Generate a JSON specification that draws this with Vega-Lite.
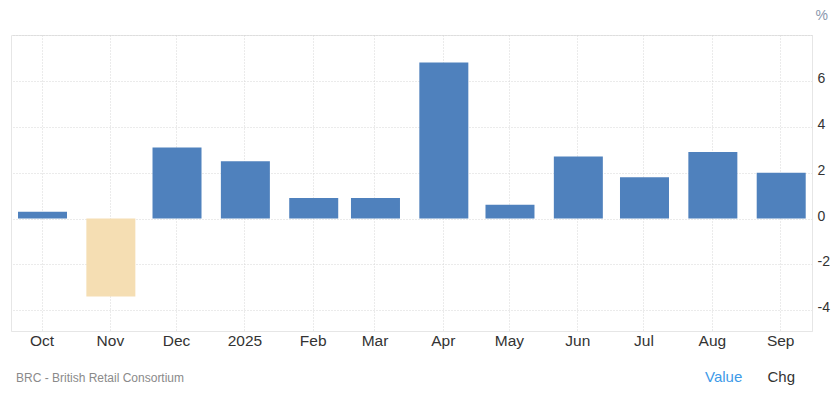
{
  "$schema": "https://vega.github.io/schema/vega-lite/v6.json",
  "autosize": {"type": "none"},
  "width": 801,
  "height": 296,
  "padding": {"left": 11, "top": 35, "right": 25, "bottom": 74},
  "background": "white",
  "config": {
    "view": {"stroke": "#e6e6e6"},
    "font": "Liberation Sans"
  },
  "title": {
    "text": "BRC - British Retail Consortium",
    "orient": "bottom",
    "anchor": "start",
    "frame": "group",
    "fontSize": 12,
    "fontWeight": "normal",
    "color": "#8a8a8a",
    "font": "Liberation Sans",
    "offset": -12,
    "dx": 5
  },
  "layer": [
    {
      "data": {
        "values": [
          {"date": "2024-10-01", "value": 0.3},
          {"date": "2024-11-01", "value": -3.4},
          {"date": "2024-12-01", "value": 3.1},
          {"date": "2025-01-01", "value": 2.5},
          {"date": "2025-02-01", "value": 0.9},
          {"date": "2025-03-01", "value": 0.9},
          {"date": "2025-04-01", "value": 6.8},
          {"date": "2025-05-01", "value": 0.6},
          {"date": "2025-06-01", "value": 2.7},
          {"date": "2025-07-01", "value": 1.8},
          {"date": "2025-08-01", "value": 2.9},
          {"date": "2025-09-01", "value": 2.0}
        ]
      },
      "mark": {"type": "bar", "width": 49, "xOffset": 1},
      "encoding": {
        "x": {
          "field": "date",
          "type": "temporal",
          "scale": {
            "type": "utc",
            "padding": 0,
            "domain": [
              {"year": 2024, "month": 9, "date": 17, "hours": 4, "utc": true},
              {"year": 2025, "month": 9, "date": 15, "hours": 10, "utc": true}
            ]
          },
          "axis": {
            "title": null,
            "tickCount": "month",
            "labelExpr": "utcFormat(datum.value, '%m') == '01' ? utcFormat(datum.value, '%Y') : utcFormat(datum.value, '%b')",
            "grid": true,
            "gridDash": [1, 2],
            "gridColor": "#d6d6d6",
            "ticks": false,
            "domain": true,
            "domainColor": "#e6e6e6",
            "labelFontSize": 15.5,
            "labelColor": "#333333",
            "labelPadding": 2,
            "labelFlush": false,
            "labelOverlap": false
          }
        },
        "y": {
          "field": "value",
          "type": "quantitative",
          "scale": {"domain": [-4.9, 8], "nice": false, "zero": false},
          "axis": {
            "orient": "right",
            "values": [-4, -2, 0, 2, 4, 6, 8],
            "labelExpr": "datum.value == 8 ? '' : '' + datum.value",
            "grid": true,
            "gridDash": [1, 2],
            "gridColor": "#d6d6d6",
            "ticks": false,
            "domain": true,
            "domainColor": "#e6e6e6",
            "labelFontSize": 14,
            "labelColor": "#333333",
            "labelPadding": 5,
            "labelOffset": -2.5,
            "title": "%",
            "titleAngle": 0,
            "titleX": 3,
            "titleY": -20,
            "titleAlign": "left",
            "titleBaseline": "middle",
            "titleFontSize": 14,
            "titleFontWeight": "normal",
            "titleColor": "#8a97ad"
          }
        },
        "color": {
          "condition": {"test": "datum.value < 0", "value": "#f5deb3"},
          "value": "#4f81bd"
        }
      }
    },
    {
      "data": {"values": [{"btn": "Value"}, {"btn": "Chg"}]},
      "mark": {"type": "point", "opacity": 0},
      "encoding": {
        "color": {
          "field": "btn",
          "type": "nominal",
          "sort": null,
          "scale": {"domain": ["Value", "Chg"], "range": ["#3d9ae8", "#333333"]},
          "legend": {
            "orient": "none",
            "legendX": 679,
            "legendY": 334,
            "direction": "horizontal",
            "title": null,
            "padding": 0,
            "symbolSize": 0,
            "symbolStrokeWidth": 0,
            "symbolOpacity": 0,
            "labelOffset": 0,
            "columnPadding": 9.5,
            "labelFontSize": 15,
            "labelFont": "Liberation Sans",
            "labelLimit": 0,
            "labelColor": {"expr": "datum.value == 'Value' ? '#3d9ae8' : '#333333'"}
          }
        }
      }
    }
  ]
}
